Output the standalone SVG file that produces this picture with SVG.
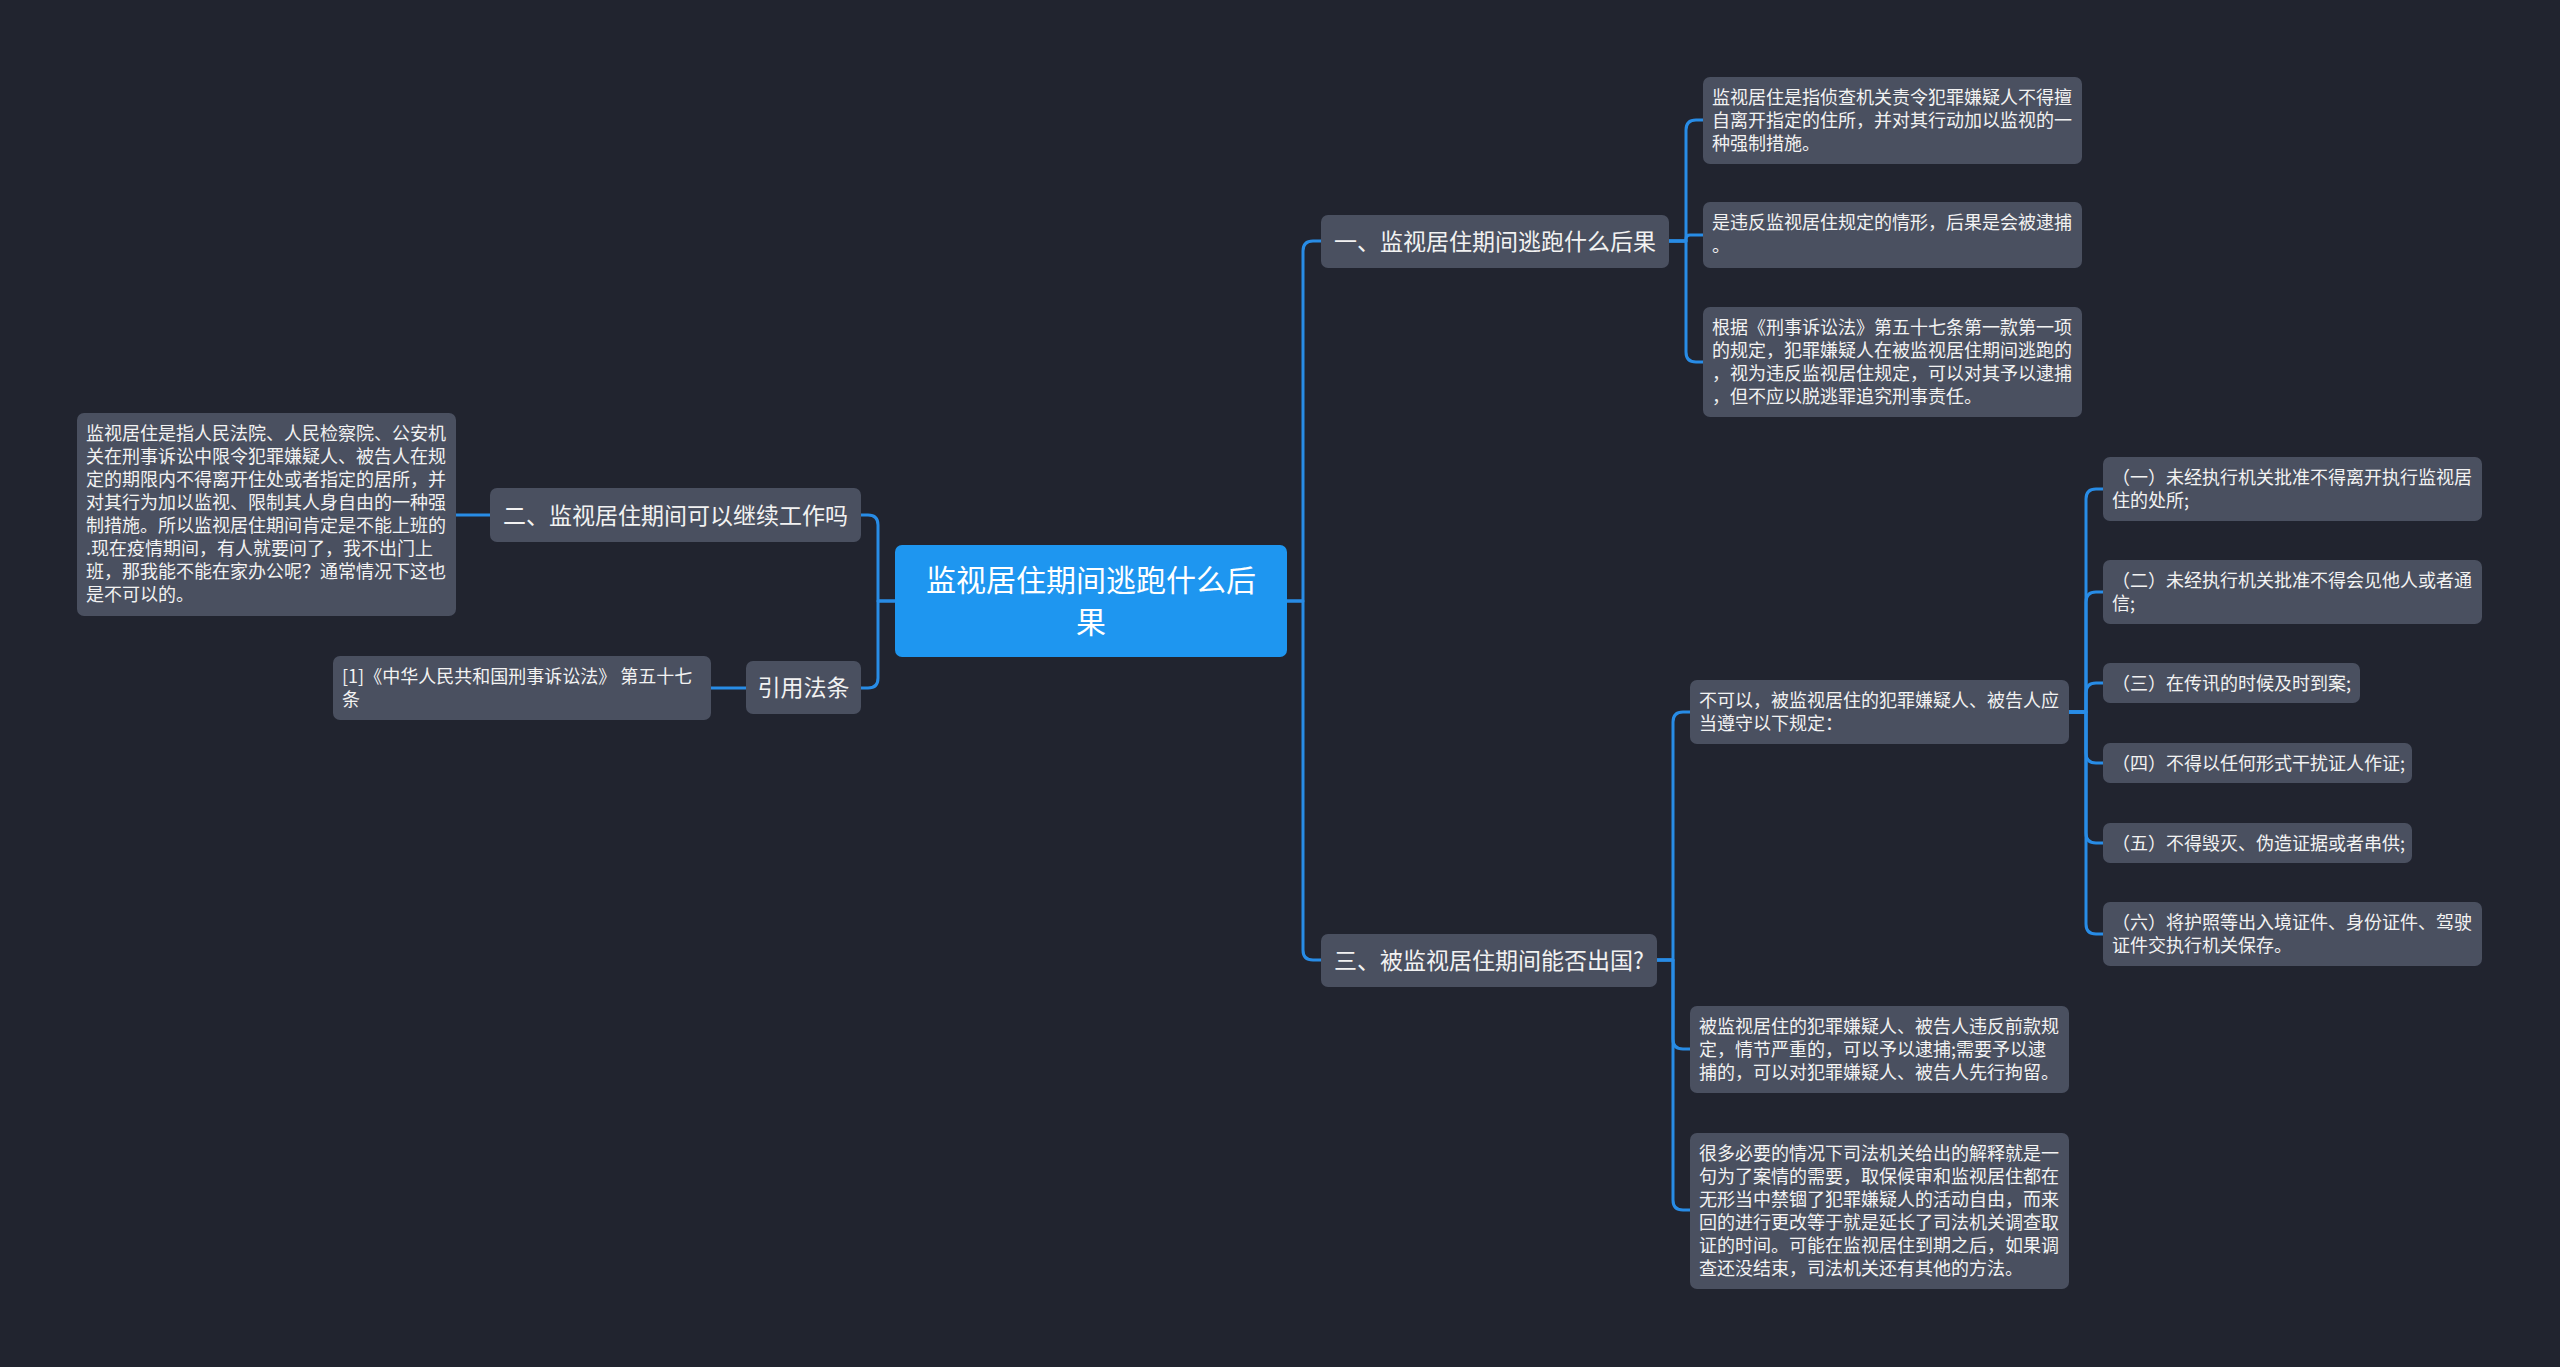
<svg xmlns="http://www.w3.org/2000/svg" width="2560" height="1367" viewBox="0 0 2560 1367">
<style>
.bg{fill:#21242f}
.node{fill:#4a5060}
.root{fill:#1e96f0}
.t{font-family:"Noto Sans CJK SC","Noto Sans",sans-serif;fill:#f2f2f2}
.leaf{font-size:18px}
.br{font-size:23px;text-anchor:middle}
.rt{font-size:30px;text-anchor:middle;fill:#ffffff}
.link{fill:none;stroke:#288ce6;stroke-width:3;stroke-linecap:round;stroke-linejoin:round}
</style>
<rect class="bg" x="0" y="0" width="2560" height="1367"/>
<g id="connectors">
<path class="link" d="M1287,601 H1303 V251 Q1303,241 1313,241 H1321"/>
<path class="link" d="M1287,601 H1303 V950 Q1303,960 1313,960 H1321"/>
<path class="link" d="M895,601 H878 V525 Q878,515 868,515 H861"/>
<path class="link" d="M895,601 H878 V678 Q878,688 868,688 H861"/>
<path class="link" d="M456,515 H490"/>
<path class="link" d="M711,688 H746"/>
<path class="link" d="M1669,241 H1686 V130 Q1686,120 1696,120 H1703"/>
<path class="link" d="M1669,241 H1686 V239 Q1686,235 1690,235 H1703"/>
<path class="link" d="M1669,241 H1686 V352 Q1686,362 1696,362 H1703"/>
<path class="link" d="M1657,960 H1673 V722 Q1673,712 1683,712 H1690"/>
<path class="link" d="M1657,960 H1673 V1039 Q1673,1049 1683,1049 H1690"/>
<path class="link" d="M1657,960 H1673 V1200 Q1673,1210 1683,1210 H1690"/>
<path class="link" d="M2069,712 H2086 V499 Q2086,489 2096,489 H2103"/>
<path class="link" d="M2069,712 H2086 V602 Q2086,592 2096,592 H2103"/>
<path class="link" d="M2069,712 H2086 V693 Q2086,683 2096,683 H2103"/>
<path class="link" d="M2069,712 H2086 V753 Q2086,763 2096,763 H2103"/>
<path class="link" d="M2069,712 H2086 V833 Q2086,843 2096,843 H2103"/>
<path class="link" d="M2069,712 H2086 V924 Q2086,934 2096,934 H2103"/>
</g>
<g id="root">
<rect class="root" x="895" y="545" width="392" height="112" rx="7"/>
<text class="t rt" x="1091" y="591">监视居住期间逃跑什么后</text>
<text class="t rt" x="1091" y="633">果</text>
</g>
<g id="branch1">
<rect class="node" x="1321" y="215" width="348" height="53" rx="7"/>
<text class="t br" x="1495" y="250">一、监视居住期间逃跑什么后果</text>
</g>
<g id="branch2">
<rect class="node" x="490" y="488" width="371" height="54" rx="7"/>
<text class="t br" x="675.5" y="523.5">二、监视居住期间可以继续工作吗</text>
</g>
<g id="branch3">
<rect class="node" x="1321" y="934" width="336" height="53" rx="7"/>
<text class="t br" x="1489" y="969">三、被监视居住期间能否出国?</text>
</g>
<g id="branch4">
<rect class="node" x="746" y="661" width="115" height="53" rx="7"/>
<text class="t br" x="803.5" y="696">引用法条</text>
</g>
<g id="leafA">
<rect class="node" x="1703" y="77" width="379" height="87" rx="7"/>
<text class="t leaf" x="1712" y="104">监视居住是指侦查机关责令犯罪嫌疑人不得擅</text>
<text class="t leaf" x="1712" y="127">自离开指定的住所，并对其行动加以监视的一</text>
<text class="t leaf" x="1712" y="150">种强制措施。</text>
</g>
<g id="leafB">
<rect class="node" x="1703" y="202" width="379" height="66" rx="7"/>
<text class="t leaf" x="1712" y="229">是违反监视居住规定的情形，后果是会被逮捕</text>
<text class="t leaf" x="1712" y="252">。</text>
</g>
<g id="leafC">
<rect class="node" x="1703" y="307" width="379" height="110" rx="7"/>
<text class="t leaf" x="1712" y="334">根据《刑事诉讼法》第五十七条第一款第一项</text>
<text class="t leaf" x="1712" y="357">的规定，犯罪嫌疑人在被监视居住期间逃跑的</text>
<text class="t leaf" x="1712" y="380">，视为违反监视居住规定，可以对其予以逮捕</text>
<text class="t leaf" x="1712" y="403">，但不应以脱逃罪追究刑事责任。</text>
</g>
<g id="leafL">
<rect class="node" x="77" y="413" width="379" height="203" rx="7"/>
<text class="t leaf" x="86" y="440">监视居住是指人民法院、人民检察院、公安机</text>
<text class="t leaf" x="86" y="463">关在刑事诉讼中限令犯罪嫌疑人、被告人在规</text>
<text class="t leaf" x="86" y="486">定的期限内不得离开住处或者指定的居所，并</text>
<text class="t leaf" x="86" y="509">对其行为加以监视、限制其人身自由的一种强</text>
<text class="t leaf" x="86" y="532">制措施。所以监视居住期间肯定是不能上班的</text>
<text class="t leaf" x="86" y="555">.现在疫情期间，有人就要问了，我不出门上</text>
<text class="t leaf" x="86" y="578">班，那我能不能在家办公呢？通常情况下这也</text>
<text class="t leaf" x="86" y="601">是不可以的。</text>
</g>
<g id="leafR">
<rect class="node" x="333" y="656" width="378" height="64" rx="7"/>
<text class="t leaf" x="342" y="683">[1]《中华人民共和国刑事诉讼法》 第五十七</text>
<text class="t leaf" x="342" y="706">条</text>
</g>
<g id="leafC1">
<rect class="node" x="1690" y="680" width="379" height="64" rx="7"/>
<text class="t leaf" x="1699" y="707">不可以，被监视居住的犯罪嫌疑人、被告人应</text>
<text class="t leaf" x="1699" y="730">当遵守以下规定：</text>
</g>
<g id="leafC2">
<rect class="node" x="1690" y="1006" width="379" height="87" rx="7"/>
<text class="t leaf" x="1699" y="1033">被监视居住的犯罪嫌疑人、被告人违反前款规</text>
<text class="t leaf" x="1699" y="1056">定，情节严重的，可以予以逮捕;需要予以逮</text>
<text class="t leaf" x="1699" y="1079">捕的，可以对犯罪嫌疑人、被告人先行拘留。</text>
</g>
<g id="leafC3">
<rect class="node" x="1690" y="1133" width="379" height="156" rx="7"/>
<text class="t leaf" x="1699" y="1160">很多必要的情况下司法机关给出的解释就是一</text>
<text class="t leaf" x="1699" y="1183">句为了案情的需要，取保候审和监视居住都在</text>
<text class="t leaf" x="1699" y="1206">无形当中禁锢了犯罪嫌疑人的活动自由，而来</text>
<text class="t leaf" x="1699" y="1229">回的进行更改等于就是延长了司法机关调查取</text>
<text class="t leaf" x="1699" y="1252">证的时间。可能在监视居住到期之后，如果调</text>
<text class="t leaf" x="1699" y="1275">查还没结束，司法机关还有其他的方法。</text>
</g>
<g id="leafS1">
<rect class="node" x="2103" y="457" width="379" height="64" rx="7"/>
<text class="t leaf" x="2112" y="484">（一）未经执行机关批准不得离开执行监视居</text>
<text class="t leaf" x="2112" y="507">住的处所;</text>
</g>
<g id="leafS2">
<rect class="node" x="2103" y="560" width="379" height="64" rx="7"/>
<text class="t leaf" x="2112" y="587">（二）未经执行机关批准不得会见他人或者通</text>
<text class="t leaf" x="2112" y="610">信;</text>
</g>
<g id="leafS3">
<rect class="node" x="2103" y="663" width="257" height="40" rx="7"/>
<text class="t leaf" x="2112" y="690">（三）在传讯的时候及时到案;</text>
</g>
<g id="leafS4">
<rect class="node" x="2103" y="743" width="309" height="40" rx="7"/>
<text class="t leaf" x="2112" y="770">（四）不得以任何形式干扰证人作证;</text>
</g>
<g id="leafS5">
<rect class="node" x="2103" y="823" width="309" height="40" rx="7"/>
<text class="t leaf" x="2112" y="850">（五）不得毁灭、伪造证据或者串供;</text>
</g>
<g id="leafS6">
<rect class="node" x="2103" y="902" width="379" height="64" rx="7"/>
<text class="t leaf" x="2112" y="929">（六）将护照等出入境证件、身份证件、驾驶</text>
<text class="t leaf" x="2112" y="952">证件交执行机关保存。</text>
</g>
</svg>
